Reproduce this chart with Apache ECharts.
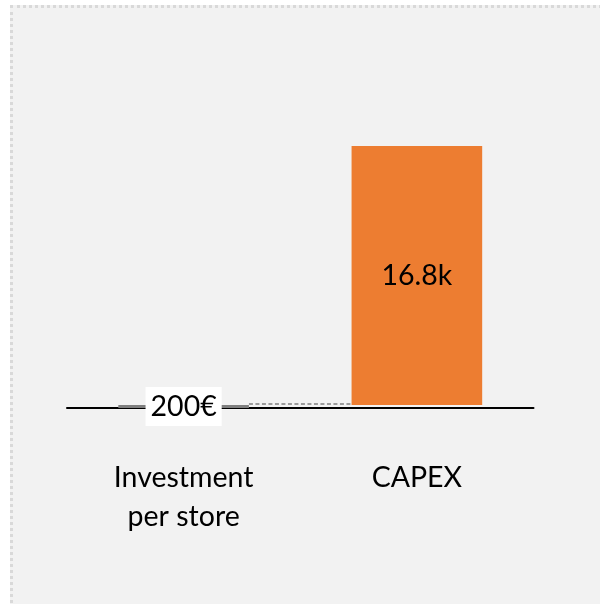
<!DOCTYPE html>
<html>
<head>
<meta charset="utf-8">
<script src="https://cdn.jsdelivr.net/npm/echarts@6/dist/echarts.min.js"></script>
<style>
  html, body { margin: 0; padding: 0; background: #ffffff; overflow: hidden; }
  #bg { position: absolute; left: 10px; top: 5px; width: 620px; height: 620px;
        background: #f2f2f2; border-top: 3px dotted #d9d9d9; border-left: 3px dotted #d9d9d9; }
  #chart { position: absolute; left: 0; top: 0; width: 600px; height: 604px; }
</style>
</head>
<body>
<div id="bg"></div>
<div id="chart"></div>
<script>
// ---- data ----
var categories = ['Investment\nper store', 'CAPEX'];
var investmentValues = [200, '-'];      // gray bar (starts at 0)
var capexBase = ['-', 200];             // invisible offset for the floating CAPEX bar
var capexValues = ['-', 16800];         // orange bar
var connectorLevel = [[0, 200]];        // dashed connector from bar 0 to bar 1 at this value

function fmtEuro(v) { return v + '€'; }
function fmtK(v) { return (v / 1000).toFixed(1) + 'k'; }

var FONT = 'Lato';
var BAR_FRAC = 0.56;

var chart = echarts.init(document.getElementById('chart'), null, { renderer: 'canvas' });
chart.setOption({
  backgroundColor: 'transparent',
  animation: false,
  grid: { left: 67, right: 66.5, top: 146, bottom: 196 },
  xAxis: {
    type: 'category',
    data: categories,
    axisLine: { show: true, lineStyle: { color: '#000000', width: 2 } },
    axisTick: { show: false },
    axisLabel: {
      color: '#000000', fontFamily: FONT, fontSize: 28.5, lineHeight: 39,
      margin: 50, interval: 0
    }
  },
  yAxis: {
    type: 'value', min: 0, max: 17000, show: false,
    splitLine: { show: false }
  },
  series: [
    {
      type: 'bar', stack: 'w', data: investmentValues, barWidth: (BAR_FRAC * 100) + '%',
      itemStyle: { color: '#7f7f7f' },
      label: {
        show: true, position: 'inside', formatter: function (p) { return fmtEuro(p.value); },
        color: '#000000', fontFamily: FONT, fontSize: 28.5,
        backgroundColor: '#ffffff', padding: [5, 5, 5, 5]
      },
      z: 3
    },
    {
      type: 'bar', stack: 'w', data: capexBase, barWidth: (BAR_FRAC * 100) + '%',
      itemStyle: { color: 'rgba(0,0,0,0)' }, silent: true
    },
    {
      type: 'bar', stack: 'w', data: capexValues, barWidth: (BAR_FRAC * 100) + '%',
      itemStyle: { color: '#ed7d31' },
      label: {
        show: true, position: 'inside', formatter: function (p) { return fmtK(p.value); },
        color: '#000000', fontFamily: FONT, fontSize: 28.5
      }
    },
    {
      type: 'custom', data: connectorLevel, z: 2,
      renderItem: function (params, api) {
        var c = api.coord([api.value(0), api.value(1)]);
        var band = api.size([1, 0])[0];
        var half = band * BAR_FRAC / 2;
        return {
          type: 'line',
          shape: { x1: c[0] + half, y1: c[1] - 1, x2: c[0] + band - half, y2: c[1] - 1 },
          style: { stroke: '#7f7f7f', lineWidth: 1.5, lineDash: [4, 2.5] }
        };
      }
    }
  ]
});
</script>
</body>
</html>
